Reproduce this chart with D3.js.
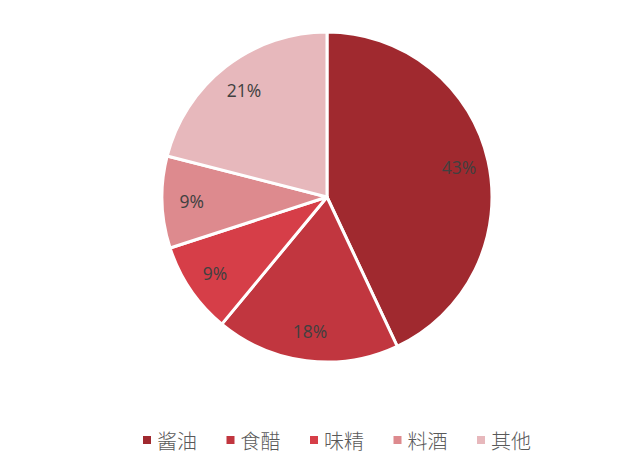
<!DOCTYPE html>
<html><head><meta charset="utf-8">
<script src="https://cdn.jsdelivr.net/npm/d3@7/dist/d3.min.js"></script>
<style>body{margin:0;background:#fff}</style>
</head><body>
<svg id="c" width="640" height="472"></svg>
<script>
const categories = ["酱油", "食醋", "味精", "料酒", "其他"];
const values = [43, 18, 9, 9, 21];
const colors = ["#A0292F", "#C1363F", "#D63E48", "#DD8A8E", "#E7B8BC"];

const svg = d3.select("#c");
const cx = 327, cy = 197, r = 165;
const g = svg.append("g").attr("transform", `translate(${cx},${cy})`);
const pie = d3.pie().sort(null).value(d => d)(values);
const arc = d3.arc().innerRadius(0).outerRadius(r);
const labelArc = d3.arc().innerRadius(r * 0.82).outerRadius(r * 0.82);

g.selectAll("path").data(pie).join("path")
  .attr("d", arc)
  .attr("fill", (d, i) => colors[i])
  .attr("stroke", "#fff").attr("stroke-width", 3).attr("stroke-linejoin", "round");

g.selectAll("text").data(pie).join("text")
  .attr("transform", d => `translate(${labelArc.centroid(d)})`)
  .attr("text-anchor", "middle").attr("dominant-baseline", "central")
  .attr("font-family", "'Open Sans', 'Noto Sans', sans-serif")
  .attr("font-size", 17.5).attr("fill", "#404040")
  .text(d => d.data + "%");

const xs = d3.scalePoint().domain(categories).range([143, 477]);
const lg = svg.append("g").selectAll("g").data(categories).join("g")
  .attr("transform", d => `translate(${xs(d)},440)`);
lg.append("rect").attr("x", 0).attr("y", -4).attr("width", 8).attr("height", 8)
  .attr("fill", (d, i) => colors[i]);
lg.append("text").attr("x", 14).attr("y", 0).attr("dominant-baseline", "central")
  .attr("font-family", "'Noto Sans CJK SC', sans-serif").attr("font-weight", 300).attr("font-size", 20)
  .attr("fill", "#595959").text(d => d);
</script>
</body></html>
